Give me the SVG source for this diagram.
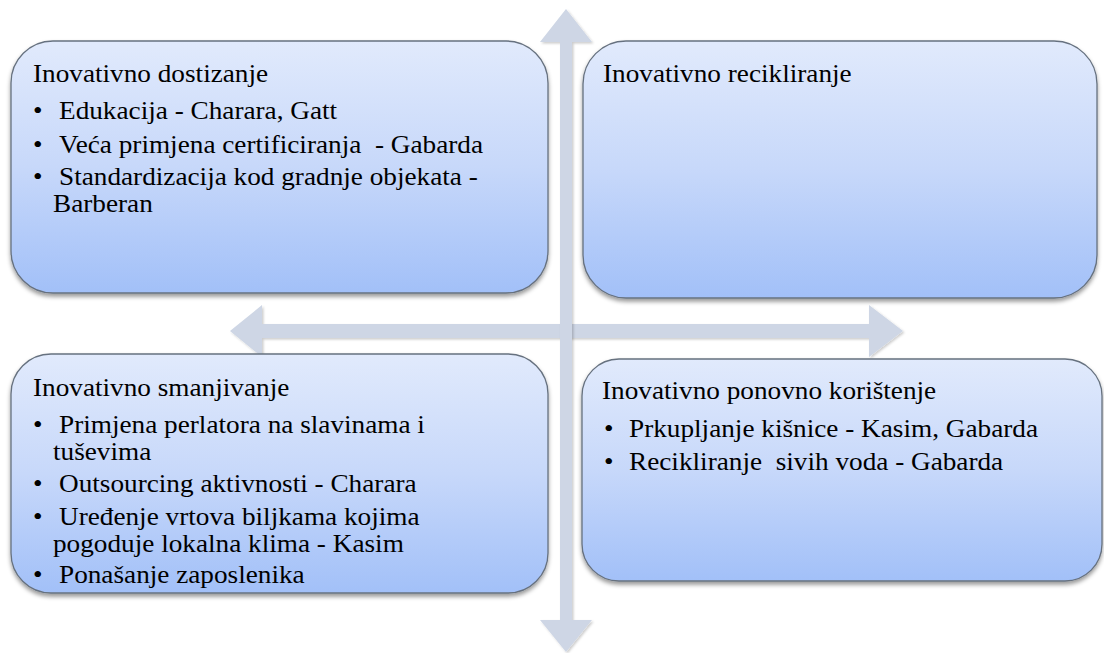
<svg xmlns="http://www.w3.org/2000/svg" width="1104" height="653" viewBox="0 0 1104 653">
<defs>
<linearGradient id="boxGrad" x1="0" y1="0" x2="0" y2="1">
<stop offset="0" stop-color="#E1EAFC"/>
<stop offset="0.5" stop-color="#C7D8FA"/>
<stop offset="1" stop-color="#A2C0F8"/>
</linearGradient>
<filter id="boxShadow" x="-5%" y="-5%" width="110%" height="115%">
<feDropShadow dx="0" dy="3" stdDeviation="2" flood-color="#000" flood-opacity="0.4"/>
</filter>
<filter id="arrowShadow" x="-5%" y="-5%" width="110%" height="110%">
<feDropShadow dx="1.5" dy="1.5" stdDeviation="1.2" flood-color="#000" flood-opacity="0.2"/>
</filter>
</defs>
<style>
.box{fill:url(#boxGrad);stroke:#66717F;stroke-width:1.3;filter:url(#boxShadow)}
.arrow{fill:#CED6E5;filter:url(#arrowShadow)}
.t text{font-family:"Liberation Serif","Times New Roman",serif;font-size:25px;fill:#000}
</style>
<g id="connectors">
<polygon class="arrow" points="230,331 262,305 262,324 869,324 869,305 903,331 869,357 869,338 262,338 262,357"/>
<polygon class="arrow" points="566,9 592,42 572,42 572,620 592,620 566,652 540,620 560,620 560,42 540,42"/>
</g>
<g id="node-dostizanje" class="t">
<rect class="box" x="11" y="41" width="537" height="252" rx="42" ry="42"/>
<text transform="matrix(1.09 0 0 1 33 82)">Inovativno dostizanje</text>
<text transform="matrix(1.09 0 0 1 33 119)">•</text>
<text transform="matrix(1.09 0 0 1 59 119)">Edukacija - Charara, Gatt</text>
<text transform="matrix(1.09 0 0 1 33 153)">•</text>
<text transform="matrix(1.09 0 0 1 59 153)" xml:space="preserve">Veća primjena certificiranja  - Gabarda</text>
<text transform="matrix(1.09 0 0 1 33 185)">•</text>
<text transform="matrix(1.09 0 0 1 59 185)">Standardizacija kod gradnje objekata -</text>
<text transform="matrix(1.09 0 0 1 53 212)">Barberan</text>
</g>
<g id="node-recikliranje" class="t">
<rect class="box" x="583" y="41" width="514" height="257" rx="43" ry="43"/>
<text transform="matrix(1.09 0 0 1 603 82)">Inovativno recikliranje</text>
</g>
<g id="node-smanjivanje" class="t">
<rect class="box" x="11" y="354" width="537" height="239" rx="40" ry="40"/>
<text transform="matrix(1.09 0 0 1 33 396)">Inovativno smanjivanje</text>
<text transform="matrix(1.09 0 0 1 33 433)">•</text>
<text transform="matrix(1.09 0 0 1 59 433)">Primjena perlatora na slavinama i</text>
<text transform="matrix(1.09 0 0 1 53 460)">tuševima</text>
<text transform="matrix(1.09 0 0 1 33 492)">•</text>
<text transform="matrix(1.09 0 0 1 59 492)">Outsourcing aktivnosti - Charara</text>
<text transform="matrix(1.09 0 0 1 33 525)">•</text>
<text transform="matrix(1.09 0 0 1 59 525)">Uređenje vrtova biljkama kojima</text>
<text transform="matrix(1.09 0 0 1 53 552)">pogoduje lokalna klima - Kasim</text>
<text transform="matrix(1.09 0 0 1 33 583)">•</text>
<text transform="matrix(1.09 0 0 1 59 583)">Ponašanje zaposlenika</text>
</g>
<g id="node-ponovno" class="t">
<rect class="box" x="582" y="359" width="520" height="222" rx="37" ry="37"/>
<text transform="matrix(1.09 0 0 1 602 399)">Inovativno ponovno korištenje</text>
<text transform="matrix(1.09 0 0 1 604 437)">•</text>
<text transform="matrix(1.09 0 0 1 629 437)">Prkupljanje kišnice - Kasim, Gabarda</text>
<text transform="matrix(1.09 0 0 1 604 470)">•</text>
<text transform="matrix(1.09 0 0 1 629 470)" xml:space="preserve">Recikliranje  sivih voda - Gabarda</text>
</g>
</svg>
